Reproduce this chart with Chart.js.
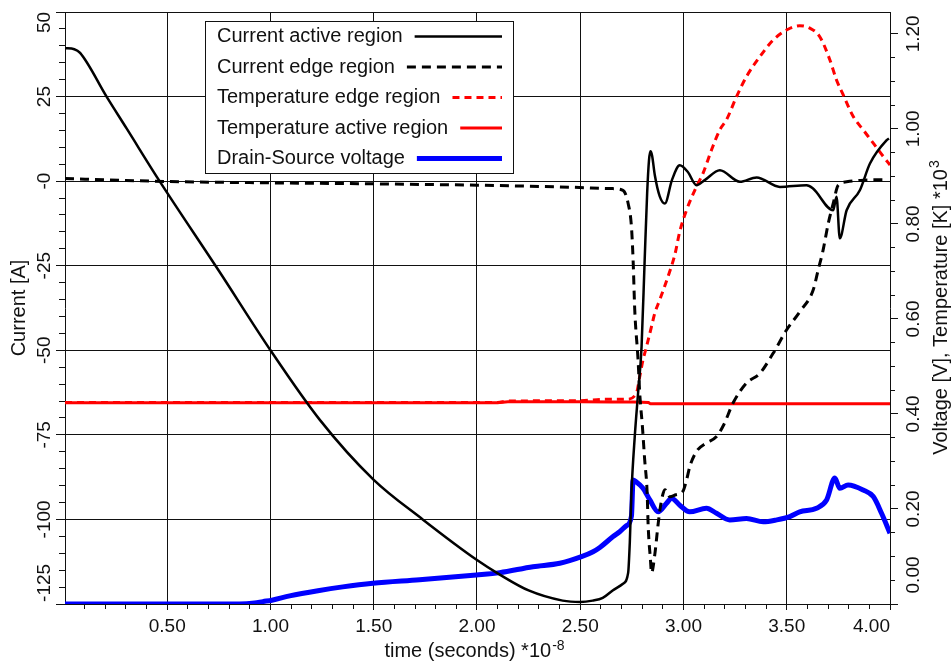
<!DOCTYPE html>
<html><head><meta charset="utf-8">
<script src="https://cdn.jsdelivr.net/npm/chart.js@4.4.1/dist/chart.umd.min.js"></script>
<style>html,body{margin:0;padding:0;background:#fff}#wrap{width:952px;height:663px;position:relative}</style>
</head><body><div id="wrap"><canvas id="c" width="952" height="663"></canvas></div>
<script>
// ---------- data (time in 1e-8 s) ----------
const curActiveT = [0.005, 0.05, 0.078, 0.207, 0.304, 0.463, 0.75, 1.0, 1.238, 1.5, 1.737, 2.0, 2.11, 2.25, 2.415, 2.5, 2.56, 2.609, 2.657, 2.707, 2.732, 2.740, 2.748, 2.764, 2.780, 2.797, 2.812, 2.824, 2.833, 2.840, 2.848, 2.861, 2.885, 2.910, 2.944, 2.982, 3.021, 3.063, 3.103, 3.176, 3.273, 3.354, 3.467, 3.596, 3.626, 3.725, 3.741, 3.757, 3.790, 3.854, 3.903, 3.984, 3.995];
const curActiveI = [39.3, 39.0, 37.9, 24.9, 15.5, 0.0, -26.5, -50, -70.5, -88.3, -100, -112, -116.3, -121, -124, -124.4, -124, -123.2, -121, -119, -115.8, -106.8, -92.1, -75.5, -62.7, -48.9, -23.3, -3.6, 6.2, 8.8, 7.5, 1.8, -4.5, -6.6, 0.3, 4.7, 2.7, -1.2, 0.3, 3.2, -0.2, 1.1, -1.7, -1.2, -2.1, -8.6, -4.6, -16.9, -8.6, -2.7, 5.2, 12.1, 12.6];

const curEdgeT = [0.005, 0.3, 0.5, 1.0, 1.5, 2.0, 2.4, 2.65, 2.707, 2.732, 2.748, 2.756, 2.764, 2.780, 2.788, 2.801, 2.812, 2.824, 2.829, 2.840, 2.845, 2.861, 2.877, 2.890, 2.910, 2.934, 2.963, 2.997, 3.015, 3.031, 3.063, 3.111, 3.160, 3.195, 3.240, 3.305, 3.370, 3.434, 3.499, 3.563, 3.628, 3.652, 3.676, 3.701, 3.725, 3.749, 3.790, 3.870, 3.975];
const curEdgeI = [0.8, 0.2, -0.1, -0.5, -0.8, -1.2, -1.7, -2.2, -2.7, -6.6, -13.5, -23.3, -38.1, -52.8, -62.6, -72.5, -82.3, -92.1, -102, -111.9, -115.8, -110.4, -101.5, -95.6, -91.2, -93.3, -92.7, -91.7, -88.3, -84.3, -79.9, -77.4, -75.5, -72.0, -65.6, -59.7, -56.8, -50.9, -44.0, -38.6, -32.2, -26.3, -20.4, -12.5, -6.6, -1.2, -0.2, 0.3, 0.4];

const tempEdgeT = [0.005, 2.1, 2.15, 2.5, 2.627, 2.724, 2.772, 2.788, 2.804, 2.821, 2.845, 2.861, 2.885, 2.925, 2.958, 2.982, 3.015, 3.063, 3.095, 3.136, 3.176, 3.208, 3.257, 3.305, 3.370, 3.434, 3.499, 3.563, 3.612, 3.660, 3.709, 3.741, 3.773, 3.822, 3.870, 3.919, 3.967, 4.0];
const tempEdgeK = [0.424, 0.424, 0.427, 0.428, 0.431, 0.431, 0.4436, 0.4785, 0.5137, 0.5417, 0.5838, 0.612, 0.64, 0.689, 0.735, 0.784, 0.8295, 0.8785, 0.907, 0.956, 0.998, 1.019, 1.068, 1.110, 1.152, 1.187, 1.208, 1.217, 1.212, 1.194, 1.145, 1.103, 1.072, 1.026, 0.998, 0.970, 0.942, 0.924];

const tempActiveT = [0.005, 2.1, 2.15, 2.5, 2.75, 2.83, 2.84, 4.0];
const tempActiveK = [0.4235, 0.4235, 0.4255, 0.4255, 0.425, 0.424, 0.4215, 0.4215];

const vdsT = [0.005, 0.85, 0.923, 0.963, 1.007, 1.093, 1.230, 1.35, 1.496, 1.722, 1.997, 2.110, 2.271, 2.401, 2.506, 2.562, 2.595, 2.659, 2.691, 2.724, 2.748, 2.756, 2.769, 2.804, 2.837, 2.877, 2.918, 2.942, 2.982, 3.030, 3.111, 3.160, 3.224, 3.305, 3.386, 3.451, 3.515, 3.563, 3.644, 3.693, 3.733, 3.757, 3.797, 3.870, 3.919, 3.959, 4.0];
const vdsV = [0, 0, 0.002, 0.005, 0.008, 0.017, 0.028, 0.036, 0.0436, 0.051, 0.061, 0.066, 0.0786, 0.0857, 0.0996, 0.110, 0.119, 0.142, 0.152, 0.165, 0.185, 0.261, 0.258, 0.2435, 0.219, 0.194, 0.212, 0.2225, 0.208, 0.194, 0.2015, 0.191, 0.177, 0.180, 0.173, 0.177, 0.184, 0.194, 0.2015, 0.219, 0.265, 0.2435, 0.2505, 0.24, 0.226, 0.191, 0.149];

const seriesNames = ['Current active region', 'Current edge region', 'Temperature edge region', 'Temperature active region', 'Drain-Source voltage'];

// ---------- ticks ----------
const xMajorTicks = [0.5, 1.0, 1.5, 2.0, 2.5, 3.0, 3.5, 4.0];
const xTickLabels = ['0.50', '1.00', '1.50', '2.00', '2.50', '3.00', '3.50', '4.00'];
const xMinorStep = 0.1;
const currentMajorTicks = [50, 25, 0, -25, -50, -75, -100, -125];
const currentTickLabels = ['50    ', '25', '-0', '-25', '-50', '-75', '-100', '        -125'];
const currentMinorStep = 5;
const rightMajorTicks = [0, 0.2, 0.4, 0.6, 0.8, 1.0, 1.2];
const rightTickLabels = ['           0.00', '0.20', '0.40', '0.60', '0.80', '1.00', '1.20'];
const rightMinorStep = 0.05;

const FONT = '"Liberation Sans", Arial, Helvetica, sans-serif';
const INK = '#111';

function pts(xs, ys) { return xs.map((x, i) => ({x: x, y: ys[i]})); }
function stepTicks(min, max, step) {
  const out = [];
  for (let k = Math.ceil(min / step - 1e-9); k * step <= max + 1e-9; k++) out.push({value: +(k * step).toFixed(6)});
  return out;
}
function idxOf(v, arr) { return arr.findIndex(m => Math.abs(m - v) < 1e-6); }
function isMajor(v, arr) { return idxOf(v, arr) >= 0; }

Chart.defaults.font.family = FONT;
Chart.defaults.color = INK;

const overlay = {
  id: 'overlay',
  afterDraw(chart) {
    const ctx = chart.ctx;
    const ca = chart.chartArea;
    ctx.save();
    ctx.fillStyle = INK;
    ctx.textBaseline = 'alphabetic';
    ctx.textAlign = 'left';
    // bottom axis title with superscript
    let main = 'time (seconds) *10', sup = '-8';
    ctx.font = '20px ' + FONT; const w1 = ctx.measureText(main).width;
    ctx.font = '14px ' + FONT; const w2 = ctx.measureText(sup).width;
    const x0 = 474 - (w1 + w2) / 2;
    ctx.font = '20px ' + FONT; ctx.fillText(main, x0, 657);
    ctx.font = '14px ' + FONT; ctx.fillText(sup, x0 + w1 + 1, 650);
    // right axis title, reading upward
    main = 'Voltage [V], Temperature [K] *10'; sup = '3';
    ctx.font = '20px ' + FONT; const r1 = ctx.measureText(main).width;
    ctx.font = '14px ' + FONT; const r2 = ctx.measureText(sup).width;
    ctx.save();
    ctx.translate(946.5, (ca.top + ca.bottom) / 2);
    ctx.rotate(-Math.PI / 2);
    const s0 = -(r1 + r2) / 2;
    ctx.font = '20px ' + FONT; ctx.fillText(main, s0, 0);
    ctx.font = '14px ' + FONT; ctx.fillText(sup, s0 + r1 + 1, -8);
    ctx.restore();
    // legend box
    const bx = 205.5, by = 21.5, bw = 308, bh = 152;
    ctx.fillStyle = '#fff'; ctx.fillRect(bx, by, bw, bh);
    ctx.strokeStyle = INK; ctx.lineWidth = 1; ctx.setLineDash([]); ctx.strokeRect(bx, by, bw, bh);
    ctx.font = '20px ' + FONT; ctx.textBaseline = 'middle'; ctx.textAlign = 'left';
    chart.data.datasets.forEach((ds, i) => {
      const y = 36.5 + i * 30.5;
      ctx.fillStyle = INK;
      ctx.fillText(ds.label, 217, y);
      const w = ctx.measureText(ds.label).width;
      ctx.beginPath();
      ctx.setLineDash(ds.borderDash || []);
      ctx.lineWidth = ds.borderWidth;
      ctx.strokeStyle = ds.borderColor;
      ctx.moveTo(217 + w + 12, y); ctx.lineTo(502, y);
      ctx.stroke();
    });
    ctx.restore();
  }
};

const common = {pointRadius: 0, pointHoverRadius: 0, cubicInterpolationMode: 'monotone', fill: false, borderCapStyle: 'butt', borderJoinStyle: 'round'};

new Chart(document.getElementById('c'), {
  type: 'line',
  data: {
    datasets: [
      Object.assign({label: seriesNames[0], data: pts(curActiveT, curActiveI), yAxisID: 'y', borderColor: '#000', borderWidth: 2.5}, common),
      Object.assign({label: seriesNames[1], data: pts(curEdgeT, curEdgeI), yAxisID: 'y', borderColor: '#000', borderWidth: 3, borderDash: [9, 6]}, common),
      Object.assign({label: seriesNames[2], data: pts(tempEdgeT, tempEdgeK), yAxisID: 'y2', borderColor: '#ff0000', borderWidth: 3, borderDash: [7, 5]}, common),
      Object.assign({label: seriesNames[3], data: pts(tempActiveT, tempActiveK), yAxisID: 'y2', borderColor: '#ff0000', borderWidth: 3}, common),
      Object.assign({label: seriesNames[4], data: pts(vdsT, vdsV), yAxisID: 'y2', borderColor: '#0000ff', borderWidth: 5}, common)
    ]
  },
  options: {
    responsive: false,
    animation: false,
    devicePixelRatio: 1,
    layout: {padding: {top: 12, left: 0, right: 0, bottom: 0}},
    plugins: {legend: {display: false}, tooltip: {enabled: false}},
    scales: {
      x: {
        type: 'linear', position: 'bottom', min: 0.005, max: 4.0,
        afterBuildTicks: s => { s.ticks = stepTicks(0.005, 4.0, xMinorStep); },
        afterFit: s => { s.height = 59; },
        ticks: {
          autoSkip: false, maxRotation: 0, minRotation: 0, padding: 5, align: 'inner',
          font: {size: 19}, color: INK,
          callback: v => { const i = idxOf(v, xMajorTicks); return i >= 0 ? xTickLabels[i] : ''; }
        },
        grid: {
          color: c => (isMajor(c.tick.value, xMajorTicks) && c.tick.value < 3.99) ? INK : 'rgba(0,0,0,0)',
          lineWidth: 1, tickLength: 6, tickColor: INK, tickWidth: 1,
          tickBorderDash: c => isMajor(c.tick.value, xMajorTicks) ? [] : [4, 20]
        },
        border: {display: true, color: INK, width: 1},
        title: {display: false}
      },
      y: {
        type: 'linear', position: 'left', min: -125, max: 50,
        afterBuildTicks: s => { s.ticks = stepTicks(-125, 50, currentMinorStep); },
        afterFit: s => { s.width = 65; },
        ticks: {
          autoSkip: false, minRotation: 90, maxRotation: 90, crossAlign: 'center', padding: -29,
          font: {size: 19}, color: INK,
          callback: v => { const i = idxOf(v, currentMajorTicks); return i >= 0 ? currentTickLabels[i] : ''; }
        },
        grid: {
          color: c => isMajor(c.tick.value, currentMajorTicks) ? INK : 'rgba(0,0,0,0)',
          lineWidth: 1, tickLength: 9, tickColor: INK, tickWidth: 1,
          tickBorderDash: c => isMajor(c.tick.value, currentMajorTicks) ? [] : [0, 3, 6, 30]
        },
        border: {display: true, color: INK, width: 1},
        title: {display: true, text: 'Current [A]', font: {size: 20}, color: INK, padding: {top: 7, bottom: 0}}
      },
      y2: {
        type: 'linear', position: 'right', min: 0, max: 1.246,
        afterBuildTicks: s => { s.ticks = stepTicks(0, 1.246, rightMinorStep); },
        afterFit: s => { s.width = 62; },
        ticks: {
          autoSkip: false, minRotation: 90, maxRotation: 90, crossAlign: 'center', padding: -31.5,
          font: {size: 19}, color: INK,
          callback: v => { const i = idxOf(v, rightMajorTicks); return i >= 0 ? rightTickLabels[i] : ''; }
        },
        grid: {
          drawOnChartArea: false,
          lineWidth: 1, tickLength: 8, tickColor: INK, tickWidth: 1,
          tickBorderDash: c => isMajor(c.tick.value, rightMajorTicks) ? [] : [4, 20]
        },
        border: {display: true, color: INK, width: 1},
        title: {display: false}
      }
    }
  },
  plugins: [overlay]
});
</script>
</body></html>
